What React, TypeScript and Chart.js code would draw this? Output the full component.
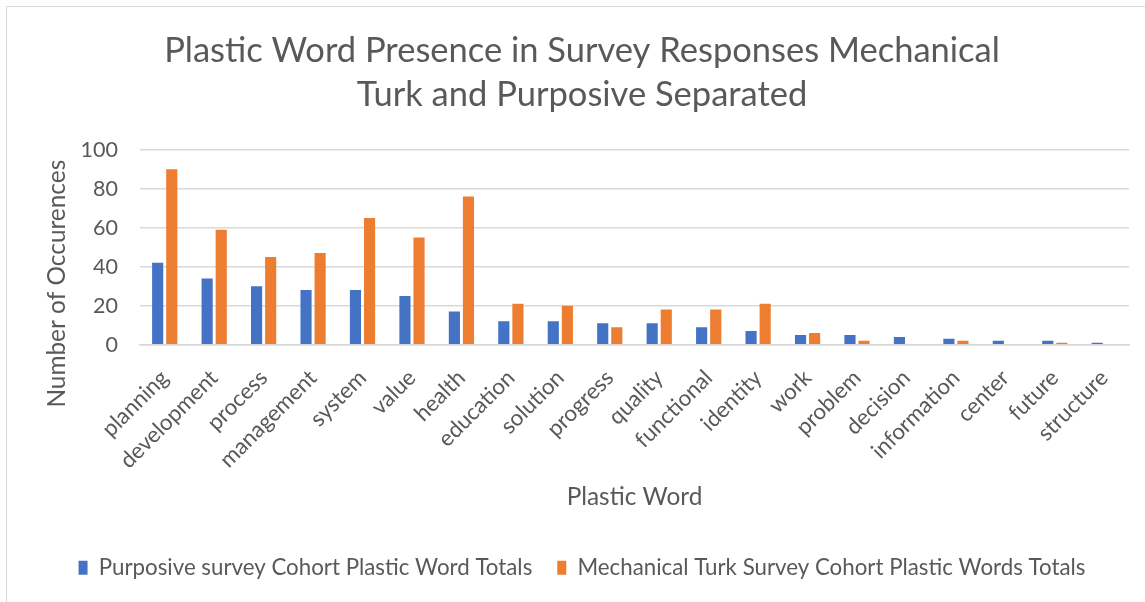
import { useEffect, useRef } from 'react';
import { Chart, registerables } from 'chart.js';

Chart.register(...registerables);

const CATEGORIES = [
  'planning', 'development', 'process', 'management', 'system', 'value', 'health',
  'education', 'solution', 'progress', 'quality', 'functional', 'identity', 'work',
  'problem', 'decision', 'information', 'center', 'future', 'structure',
];
const PURPOSIVE = [42, 34, 30, 28, 28, 25, 17, 12, 12, 11, 11, 9, 7, 5, 5, 4, 3, 2, 2, 1];
const MTURK = [90, 59, 45, 47, 65, 55, 76, 21, 20, 9, 18, 18, 21, 6, 2, 0, 2, 0, 1, 0];
const SERIES_NAMES = [
  'Purposive survey Cohort Plastic Word Totals',
  'Mechanical Turk Survey Cohort Plastic Words Totals',
];
const TITLE_LINES = ['Plastic Word Presence in Survey Responses Mechanical', 'Turk and Purposive Separated'];
const Y_TITLE = 'Number of Occurences';
const X_TITLE = 'Plastic Word';
const Y_MIN = 0;
const Y_MAX = 100;
const Y_STEP = 20;

const FONT = 'Lato';
const TEXT = '#595959';
const GRID = '#d9d9d9';
const BLUE = '#4472C4';
const ORANGE = '#ED7D31';

const yTitlePlugin = {
  id: 'yTitleCustom',
  afterDraw(chart: any) {
    const { ctx, chartArea } = chart;
    ctx.save();
    ctx.translate(chartArea.left - 83, chartArea.bottom - 61);
    ctx.rotate(-Math.PI / 2);
    ctx.font = `24.4px ${FONT}`;
    ctx.fillStyle = TEXT;
    ctx.textAlign = 'center';
    ctx.textBaseline = 'middle';
    ctx.fillText(Y_TITLE, 0, 0);
    ctx.restore();
  },
};

export default function App() {
  const ref = useRef<HTMLCanvasElement | null>(null);

  useEffect(() => {
    if (!ref.current) return;
    const chart = new Chart(ref.current, {
      type: 'bar',
      data: {
        labels: CATEGORIES,
        datasets: [
          { label: SERIES_NAMES[0], data: PURPOSIVE, backgroundColor: BLUE, categoryPercentage: 0.57, barPercentage: 0.79 },
          { label: SERIES_NAMES[1], data: MTURK, backgroundColor: ORANGE, categoryPercentage: 0.57, barPercentage: 0.79 },
        ],
      },
      options: {
        animation: false,
        responsive: true,
        maintainAspectRatio: false,
        layout: { padding: { left: 35, right: 16, top: 0, bottom: 13 } },
        plugins: {
          title: {
            display: true,
            text: TITLE_LINES,
            color: TEXT,
            font: { family: FONT, size: 34.5, weight: 'normal', lineHeight: 1.3 },
            padding: { top: 28, bottom: 32 },
          },
          legend: {
            position: 'bottom',
            labels: {
              color: TEXT,
              font: { family: FONT, size: 22.3 },
              boxWidth: 9,
              boxHeight: 14,
              padding: 25,
            },
          },
          tooltip: { enabled: false },
        },
        scales: {
          x: {
            afterFit: (s: any) => { s.height = 187; },
            grid: { display: false },
            border: { display: true, color: GRID, width: 1.5 },
            ticks: {
              color: TEXT,
              font: { family: FONT, size: 22.3 },
              minRotation: 45,
              maxRotation: 45,
              autoSkip: false,
              padding: 12,
            },
            title: {
              display: true,
              text: X_TITLE,
              color: TEXT,
              font: { family: FONT, size: 24.4 },
              padding: { top: 0, bottom: 20 },
            },
          },
          y: {
            min: Y_MIN,
            max: Y_MAX,
            afterFit: (s: any) => { s.width = 105; },
            grid: { color: GRID, lineWidth: 1.5, drawTicks: false },
            border: { display: false },
            ticks: {
              stepSize: Y_STEP,
              color: TEXT,
              font: { family: FONT, size: 21.5 },
              padding: 22,
            },
          },
        },
      },
      plugins: [yTitlePlugin],
    });
    return () => chart.destroy();
  }, []);

  return (
    <div style={{ position: 'fixed', left: 0, top: 0, width: 1145, height: 602, background: '#fff' }}>
      <div style={{ position: 'absolute', left: 6, top: 6, right: -4, bottom: -4, border: `1.5px solid ${GRID}` }} />
      <canvas ref={ref} style={{ position: 'absolute', left: 0, top: 0 }} />
    </div>
  );
}
